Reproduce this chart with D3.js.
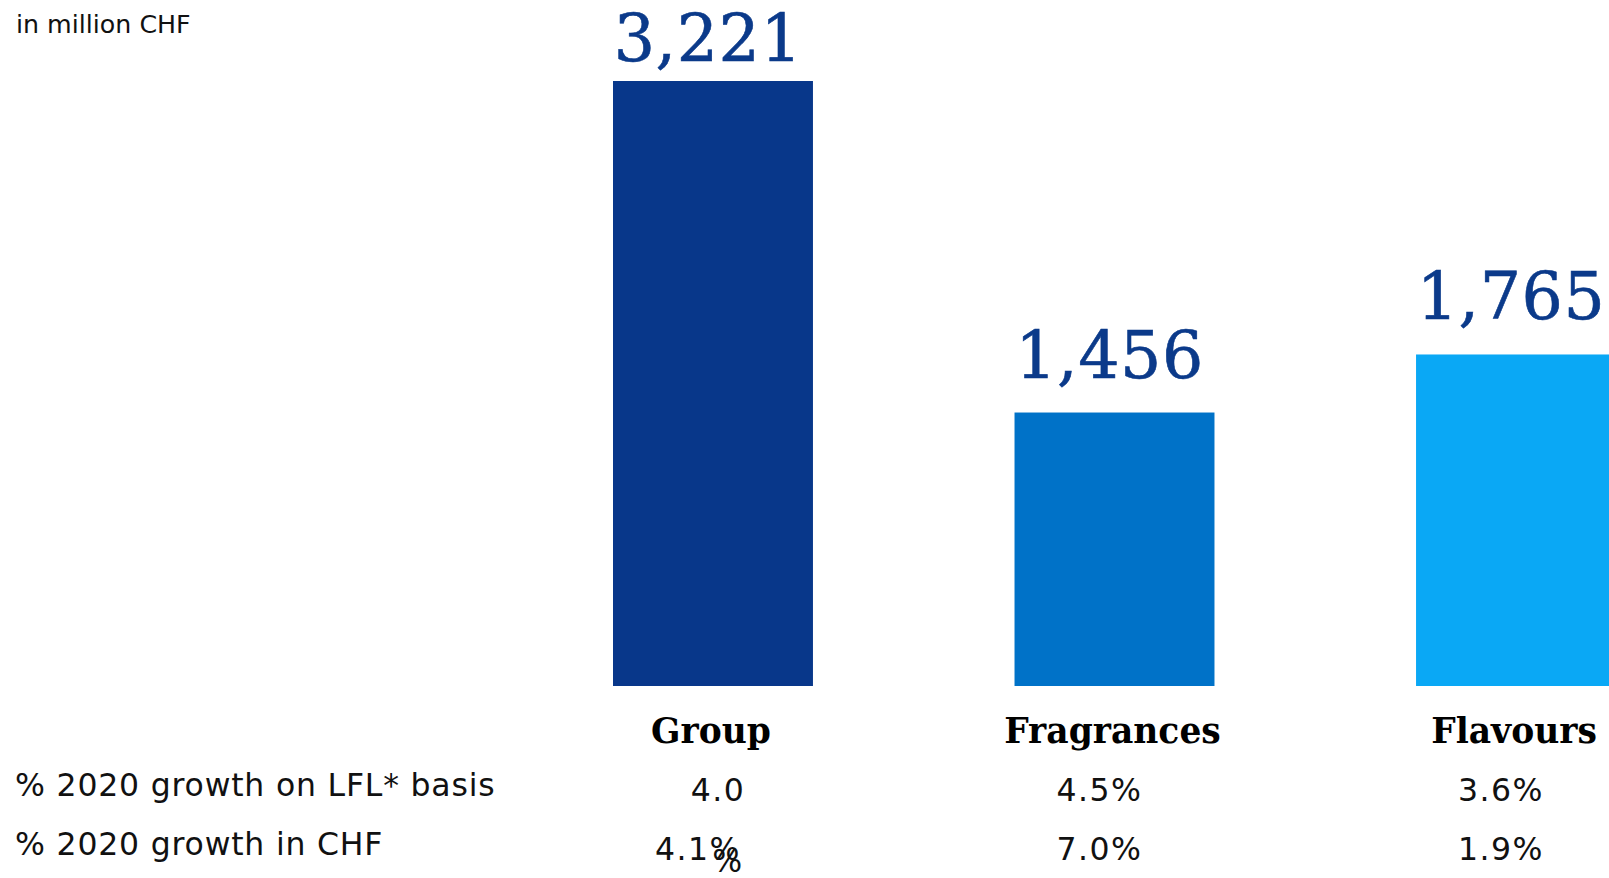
<!DOCTYPE html>
<html>
<head>
<meta charset="utf-8">
<script src="https://cdn.jsdelivr.net/npm/d3@7"></script>
<style>
  html, body { margin: 0; padding: 0; background: #fff; overflow: hidden; }
  svg { display: block; }
</style>
</head>
<body>
<svg id="chart" width="1609" height="878"></svg>
<script>
// ---- data ----
const categories = ["Group", "Fragrances", "Flavours"];
const sales = [3221, 1456, 1765];
const barColors = ["#08378A", "#0072C8", "#0AA8F5"];
const unitLabel = "in million CHF";
const rowLabels = ["% 2020 growth on LFL* basis", "% 2020 growth in CHF"];
const lflGrowth = ["4.0", "4.5%", "3.6%"];
const chfGrowth = ["4.1%", "7.0%", "1.9%"];
const strayText = "%"; // wrapped "%" of the group's LFL figure

// ---- layout ----
const svg = d3.select("#chart");

const x = d3.scaleBand()
  .domain(categories)
  .range([613, 1616])
  .paddingInner(0.502)
  .paddingOuter(0);

const y = d3.scaleLinear()
  .domain([0, d3.max(sales)])
  .range([686, 81]);

const color = d3.scaleOrdinal().domain(categories).range(barColors);

const data = categories.map((c, i) => ({
  cat: c, value: sales[i], lfl: lflGrowth[i], chf: chfGrowth[i]
}));

// unit label
svg.append("text")
  .attr("x", 16).attr("y", 33)
  .attr("font-family", "DejaVu Sans").attr("font-size", 25.3)
  .attr("fill", "#111")
  .text(unitLabel);

// bars
svg.selectAll("rect.bar").data(data).join("rect")
  .attr("class", "bar")
  .attr("x", d => x(d.cat))
  .attr("y", d => y(d.value))
  .attr("width", x.bandwidth())
  .attr("height", d => y(0) - y(d.value))
  .attr("fill", d => color(d.cat));

// value labels
const fmt = d3.format(",");
svg.selectAll("text.val").data(data).join("text")
  .attr("class", "val")
  .attr("x", d => x(d.cat) + x.bandwidth() / 2 - 5)
  .attr("y", d => Math.max(y(d.value) - 35, 61))
  .attr("text-anchor", "middle")
  .attr("font-family", "DejaVu Serif").attr("font-size", 65)
  .attr("letter-spacing", 0.5)
  .attr("fill", "#0B3A8A")
  .attr("stroke", "#0B3A8A").attr("stroke-width", 0.6)
  .text(d => fmt(d.value));

// category labels
svg.selectAll("text.cat").data(data).join("text")
  .attr("class", "cat")
  .attr("x", d => x(d.cat) + x.bandwidth() / 2 - 2)
  .attr("y", 743)
  .attr("text-anchor", "middle")
  .attr("font-family", "DejaVu Serif").attr("font-weight", "bold").attr("font-size", 34.5)
  .attr("fill", "#000")
  .text(d => d.cat);

// row labels
const rowY = [796, 855];
svg.selectAll("text.row").data(rowLabels).join("text")
  .attr("class", "row")
  .attr("x", 15)
  .attr("y", (d, i) => rowY[i])
  .attr("font-family", "DejaVu Sans").attr("font-size", 31.5)
  .attr("letter-spacing", 0.8)
  .attr("fill", "#111")
  .text(d => d);

// growth figures
const valY = [801, 860];
const common = sel => sel
  .attr("text-anchor", "middle")
  .attr("font-family", "DejaVu Sans").attr("font-size", 31.5)
  .attr("letter-spacing", 1.5)
  .attr("fill", "#111");

svg.selectAll("text.lfl").data(data).join("text")
  .attr("class", "lfl")
  .attr("x", (d, i) => x(d.cat) + x.bandwidth() / 2 + (i === 0 ? 5 : -15))
  .attr("y", valY[0])
  .call(common)
  .text(d => d.lfl);

svg.selectAll("text.chf").data(data).join("text")
  .attr("class", "chf")
  .attr("x", d => x(d.cat) + x.bandwidth() / 2 - 15)
  .attr("y", valY[1])
  .call(common)
  .text(d => d.chf);

// stray wrapped "%" under the group LFL figure
svg.append("text")
  .attr("x", x("Group") + x.bandwidth() / 2 + 15)
  .attr("y", 872)
  .call(common)
  .text(strayText);
</script>
</body>
</html>
